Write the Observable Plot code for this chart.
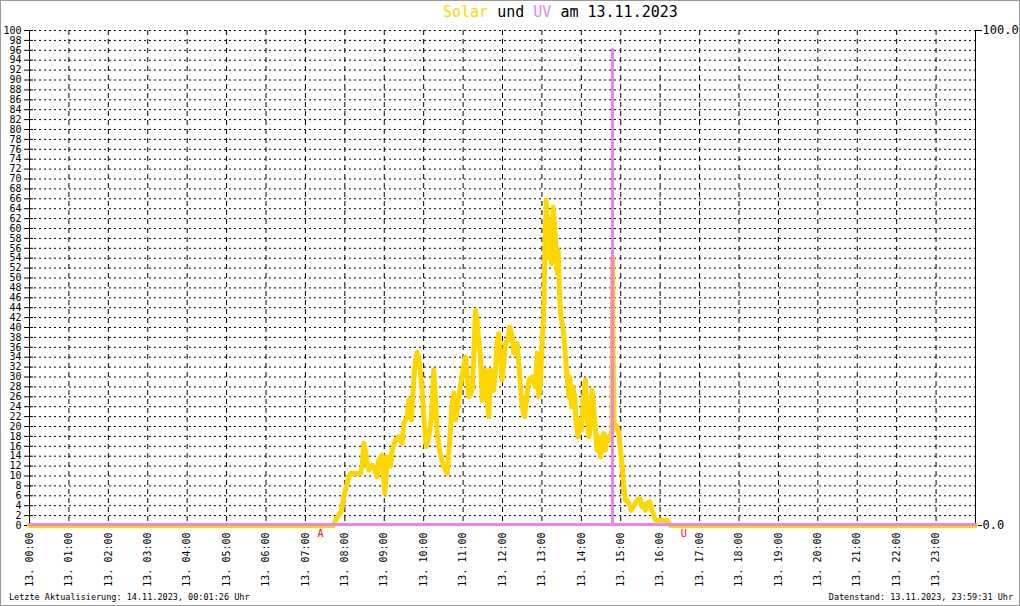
<!DOCTYPE html>
<html><head><meta charset="utf-8">
<script src="https://cdn.jsdelivr.net/npm/d3@7"></script>
<script src="https://cdn.jsdelivr.net/npm/@observablehq/plot@0.6"></script>
<style>
body{margin:0;background:#fff;}
#wrap{position:relative;width:1020px;height:606px;overflow:hidden;font-family:"DejaVu Sans Mono",monospace;background:#fff;}
#border{position:absolute;left:0;top:0;width:1018px;height:604px;border:1px solid #999;pointer-events:none;}
.t{position:absolute;white-space:pre;line-height:1;color:#000;}
</style></head><body>
<div id="wrap">
<div id="chart"></div>
<div class="t" id="title" style="left:443px;top:5px;font-size:15px;"><span style="color:#FFD700">Solar</span> und <span style="color:#EE82EE">UV</span> am 13.11.2023</div>
<div class="t" style="left:9px;top:593px;font-size:8.5px;">Letzte Aktualisierung: 14.11.2023, 00:01:26 Uhr</div>
<div class="t" style="right:7px;top:593px;font-size:8.5px;">Datenstand: 13.11.2023, 23:59:31 Uhr</div>
<div id="border"></div>
</div>
<script>
// hours of day (decimal) and solar values
const solarTime = [0, 7.712, 7.762, 7.846, 7.915, 7.973, 8.034, 8.100, 8.143, 8.397, 8.440, 8.480, 8.524, 8.567, 8.607, 8.693, 8.752, 8.820, 8.861, 8.947, 9.013, 9.049, 9.074, 9.158, 9.201, 9.285, 9.368, 9.455, 9.495, 9.581, 9.622, 9.691, 9.749, 9.792, 9.835, 9.893, 9.962, 10.002, 10.063, 10.129, 10.198, 10.231, 10.256, 10.299, 10.342, 10.426, 10.510, 10.596, 10.662, 10.723, 10.764, 10.807, 10.850, 10.916, 10.977, 11.060, 11.103, 11.144, 11.230, 11.271, 11.314, 11.357, 11.398, 11.441, 11.484, 11.525, 11.568, 11.611, 11.652, 11.694, 11.778, 11.821, 11.864, 11.905, 11.948, 11.991, 12.032, 12.075, 12.133, 12.184, 12.245, 12.286, 12.372, 12.438, 12.499, 12.557, 12.608, 12.666, 12.752, 12.836, 12.879, 12.920, 12.963, 13.006, 13.047, 13.072, 13.107, 13.158, 13.191, 13.217, 13.242, 13.285, 13.326, 13.361, 13.387, 13.412, 13.445, 13.470, 13.513, 13.554, 13.597, 13.640, 13.681, 13.706, 13.749, 13.782, 13.833, 13.869, 13.920, 13.955, 14.003, 14.061, 14.104, 14.147, 14.188, 14.231, 14.274, 14.315, 14.358, 14.399, 14.442, 14.485, 14.528, 14.569, 14.612, 14.655, 14.696, 14.780, 14.795, 14.800, 14.805, 14.830, 14.909, 14.950, 14.993, 15.036, 15.076, 15.119, 15.162, 15.203, 15.264, 15.314, 15.373, 15.416, 15.482, 15.543, 15.583, 15.626, 15.670, 15.736, 15.796, 15.837, 15.880, 16.177, 16.217, 16.261, 24];
const solarValue = [0, 0, 1, 2.1, 3, 5.8, 7.8, 9.8, 10.5, 10.5, 11.9, 16.6, 15, 12.5, 11.2, 12.2, 11.5, 9.8, 13.2, 14.2, 6.5, 10, 13.9, 12, 15.2, 17.3, 17.9, 16.6, 20.6, 22, 25.3, 21.3, 29.4, 33.4, 35, 32.8, 27.3, 22, 15.9, 17.9, 22, 27.3, 31.4, 26, 18.6, 14.2, 11.9, 10.5, 17, 24.7, 26.7, 21.3, 23.3, 27.3, 30.4, 34, 30, 26, 27.3, 34, 43.5, 41.5, 37.4, 34, 25.3, 28.7, 31.4, 25.3, 22, 31.4, 27.3, 31.4, 36.8, 38.8, 34, 29.4, 32.7, 36.8, 37.4, 40.1, 38.1, 34.8, 36.8, 30, 24, 22, 25.3, 29.4, 30, 28, 34.8, 26, 28.7, 37, 43, 54, 65.7, 59.6, 54, 59, 52.9, 64.3, 60.3, 55.6, 50.9, 55.6, 47.5, 42.8, 40.8, 38.8, 34, 30, 26, 30, 24, 28, 26, 20.6, 17.9, 21.3, 19.3, 26, 29.4, 22, 17.9, 20.6, 27.3, 24, 19.3, 15.2, 17.9, 13.9, 16.6, 18.6, 15.2, 17.9, 17.3, 19, 54, 48, 36, 20.6, 20, 18.6, 15.2, 11.9, 7.8, 5.1, 5.1, 4.5, 3.1, 3.8, 4.5, 5.1, 5.5, 3.8, 4.2, 3.1, 4.5, 4.8, 3.1, 2.1, 1.1, 1, 0.4, 0, 0];
const uvTime = [0, 14.79, 14.79, 14.79, 24];
const uvValue = [0, 0, 96, 0, 0];
const hourTicks = [0,1,2,3,4,5,6,7,8,9,10,11,12,13,14,15,16,17,18,19,20,21,22,23];
const hourLabels = ["13. 00:00","13. 01:00","13. 02:00","13. 03:00","13. 04:00","13. 05:00","13. 06:00","13. 07:00","13. 08:00","13. 09:00","13. 10:00","13. 11:00","13. 12:00","13. 13:00","13. 14:00","13. 15:00","13. 16:00","13. 17:00","13. 18:00","13. 19:00","13. 20:00","13. 21:00","13. 22:00","13. 23:00"];
const yTicks = d3.range(0, 101, 2);
const rightTicks = [0, 100];
const sunTimes = [7.38, 16.6];
const sunLabels = ["A", "U"];

const solar = solarTime.map((t, i) => ({t, v: solarValue[i]}));
const uv = uvTime.map((t, i) => ({t, v: uvValue[i]}));
const sun = sunTimes.map((t, i) => ({t, label: sunLabels[i]}));

const chart = Plot.plot({
  width: 1020, height: 606,
  marginTop: 30, marginBottom: 81, marginLeft: 29, marginRight: 45,
  style: {fontFamily: "DejaVu Sans Mono, monospace", background: "transparent", overflow: "visible", color: "#000"},
  x: {domain: [0, 24]},
  y: {domain: [0, 100]},
  marks: [
    Plot.ruleY(yTicks.filter(d => d > 0), {stroke: "#000", strokeDasharray: "2,3"}),
    Plot.ruleX(hourTicks.slice(1), {stroke: "#000", strokeDasharray: "5,4"}),
    Plot.ruleX([0, 24], {stroke: "#000"}),
    Plot.axisY({ticks: yTicks, tickSize: 9, dx: 4, text: null, label: null}),
    Plot.axisY({ticks: yTicks, tickSize: 0, tickPadding: 8, fontSize: 10, label: null}),
    Plot.axisY({anchor: "right", ticks: rightTicks, tickFormat: d => d.toFixed(1), tickSize: 6, tickPadding: 1, fontSize: 12, label: null}),
    Plot.axisX({ticks: hourTicks, tickFormat: d => hourLabels[hourTicks.indexOf(d)], tickRotate: -90, tickSize: 0, tickPadding: 7, fontSize: 10, label: null}),
    Plot.line(solar, {x: "t", y: "v", stroke: "#FFD700", strokeWidth: 5, strokeLinejoin: "round"}),
    Plot.line(uv, {x: "t", y: "v", stroke: "#EE82EE", strokeWidth: 3, dy: -1}),
    Plot.text(sun, {x: "t", y: 0, text: "label", fill: "red", dy: 8, fontSize: 10})
  ]
});
document.getElementById("chart").appendChild(chart);
</script>
</body></html>
